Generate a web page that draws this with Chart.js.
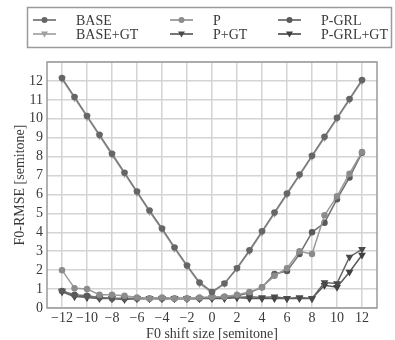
<!DOCTYPE html>
<html>
<head>
<meta charset="utf-8">
<script src="https://cdn.jsdelivr.net/npm/chart.js@4/dist/chart.umd.min.js"></script>
<style>
  html, body { margin: 0; padding: 0; background: #fff; }
  #wrap { width: 395px; height: 340px; position: relative; }
</style>
</head>
<body>
<div id="wrap"><canvas id="rmseChart"></canvas></div>
<script>
// F0 shift sizes (semitone)
var shifts = [-12, -11, -10, -9, -8, -7, -6, -5, -4, -3, -2, -1, 0, 1, 2, 3, 4, 5, 6, 7, 8, 9, 10, 11, 12];
var xTicks = [-12, -10, -8, -6, -4, -2, 0, 2, 4, 6, 8, 10, 12];

var base     = [12.15, 11.15, 10.15, 9.15, 8.15, 7.15, 6.15, 5.15, 4.2, 3.2, 2.25, 1.35, 0.85, 1.3, 2.1, 3.05, 4.05, 5.05, 6.05, 7.05, 8.05, 9.05, 10.05, 11.05, 12.05];
var p        = [2.0, 1.05, 1.0, 0.7, 0.7, 0.65, 0.55, 0.5, 0.55, 0.5, 0.5, 0.55, 0.6, 0.6, 0.7, 0.85, 1.1, 1.7, 2.1, 3.0, 2.85, 4.9, 5.9, 7.1, 8.25];
var pGrl     = [0.9, 0.7, 0.65, 0.55, 0.5, 0.5, 0.5, 0.5, 0.5, 0.5, 0.5, 0.5, 0.55, 0.6, 0.65, 0.8, 1.1, 1.8, 1.95, 2.85, 4.0, 4.5, 5.75, 6.9, 8.2];
var baseGt   = [12.1, 11.1, 10.1, 9.1, 8.1, 7.1, 6.1, 5.1, 4.15, 3.15, 2.2, 1.3, 0.8, 1.3, 2.1, 3.0, 4.0, 5.0, 6.0, 7.0, 8.0, 9.0, 10.0, 11.0, 12.0];
var pGt      = [0.85, 0.6, 0.6, 0.55, 0.5, 0.5, 0.5, 0.5, 0.5, 0.5, 0.5, 0.5, 0.55, 0.55, 0.55, 0.6, 0.55, 0.6, 0.5, 0.55, 0.5, 1.35, 1.3, 2.7, 3.1];
var pGrlGt   = [0.9, 0.65, 0.55, 0.5, 0.5, 0.45, 0.5, 0.5, 0.5, 0.5, 0.5, 0.5, 0.5, 0.5, 0.55, 0.5, 0.5, 0.5, 0.5, 0.5, 0.5, 1.2, 1.1, 1.9, 2.8];

function pts(vals) {
    return vals.map(function (v, i) { return { x: shifts[i], y: v }; });
}

function series(label, vals, lineColor, markColor, tri) {
    return {
        label: label,
        data: pts(vals),
        borderColor: lineColor,
        backgroundColor: markColor,
        pointBorderColor: markColor,
        pointBackgroundColor: markColor,
        borderWidth: 1.5,
        pointRadius: tri ? 3 : 2.5,
        pointStyle: tri ? 'triangle' : 'circle',
        rotation: tri ? 180 : 0,
        tension: 0
    };
}

var serif = '"Liberation Serif", "DejaVu Serif", serif';

// legend drawn in the top band, 3 columns x 2 rows, with a frame
var boxLegend = {
    id: 'boxLegend',
    afterDraw: function (chart) {
        var c = chart.ctx;
        c.save();
        c.strokeStyle = '#9a9a9a';
        c.lineWidth = 1.5;
        c.strokeRect(27.5, 7.5, 364, 40);
        var cols = [33, 170, 278];
        var rows = [20, 34];
        c.font = '14px ' + serif;
        c.textBaseline = 'middle';
        chart.data.datasets.forEach(function (ds, i) {
            var x0 = cols[i % 3], y = rows[Math.floor(i / 3)];
            c.strokeStyle = ds.borderColor;
            c.lineWidth = 1.8;
            c.beginPath();
            c.moveTo(x0, y);
            c.lineTo(x0 + 23, y);
            c.stroke();
            var mx = x0 + 11.5;
            c.fillStyle = ds.pointBackgroundColor;
            c.beginPath();
            if (ds.pointStyle === 'triangle') {
                c.moveTo(mx - 3.5, y - 2.5);
                c.lineTo(mx + 3.5, y - 2.5);
                c.lineTo(mx, y + 3.5);
                c.closePath();
            } else {
                c.arc(mx, y, 3, 0, Math.PI * 2);
            }
            c.fill();
            c.fillStyle = '#3a3a3a';
            c.fillText(ds.label, x0 + 43, y + 1);
        });
        // plot frame
        var a = chart.chartArea;
        c.strokeStyle = '#9a9a9a';
        c.lineWidth = 1.5;
        c.strokeRect(a.left, a.top, a.right - a.left, a.bottom - a.top);
        c.restore();
    }
};

var ctx = document.getElementById('rmseChart');
var myChart = new Chart(ctx, {
    type: 'line',
    data: {
        datasets: [
            series('BASE', base, '#7a7a7a', '#666666', false),
            series('P', p, '#9a9a9a', '#8c8c8c', false),
            series('P-GRL', pGrl, '#707070', '#5a5a5a', false),
            series('BASE+GT', baseGt, '#a8a8a8', '#a0a0a0', true),
            series('P+GT', pGt, '#666666', '#4a4a4a', true),
            series('P-GRL+GT', pGrlGt, '#5a5a5a', '#404040', true)
        ]
    },
    options: {
        responsive: true,
        maintainAspectRatio: false,
        animation: false,
        layout: {
            padding: { left: 0, top: 62, right: 18, bottom: 0 }
        },
        plugins: {
            legend: { display: false },
            tooltip: { enabled: false }
        },
        scales: {
            x: {
                type: 'linear',
                min: -13.2,
                max: 13.2,
                afterBuildTicks: function (scale) {
                    scale.ticks = xTicks.map(function (v) { return { value: v }; });
                },
                afterFit: function (scale) { scale.height = 32; },
                grid: { color: '#d4d4d4', lineWidth: 1.5, drawTicks: false },
                border: { display: false },
                ticks: {
                    padding: 2,
                    autoSkip: false,
                    color: '#3a3a3a',
                    font: { family: serif, size: 14 },
                    maxRotation: 0,
                    callback: function (v) { return v < 0 ? '\u2212' + Math.abs(v) : '' + v; }
                },
                title: {
                    display: true,
                    text: 'F0 shift size [semitone]',
                    color: '#3a3a3a',
                    font: { family: serif, size: 14 },
                    padding: { top: 0, bottom: -3 }
                }
            },
            y: {
                min: 0,
                max: 13,
                afterFit: function (scale) { scale.width = 47; },
                grid: { color: '#d4d4d4', lineWidth: 1.5, drawTicks: false },
                border: { display: false },
                ticks: {
                    stepSize: 1,
                    autoSkip: false,
                    padding: 4,
                    color: '#3a3a3a',
                    font: { family: serif, size: 14 },
                    callback: function (v) { return v === 13 ? '' : v; }
                },
                title: {
                    display: true,
                    text: 'F0-RMSE [semitone]',
                    color: '#3a3a3a',
                    font: { family: serif, size: 14 },
                    padding: { top: 12, bottom: 0 }
                }
            }
        }
    },
    plugins: [boxLegend]
});
</script>
</body>
</html>
